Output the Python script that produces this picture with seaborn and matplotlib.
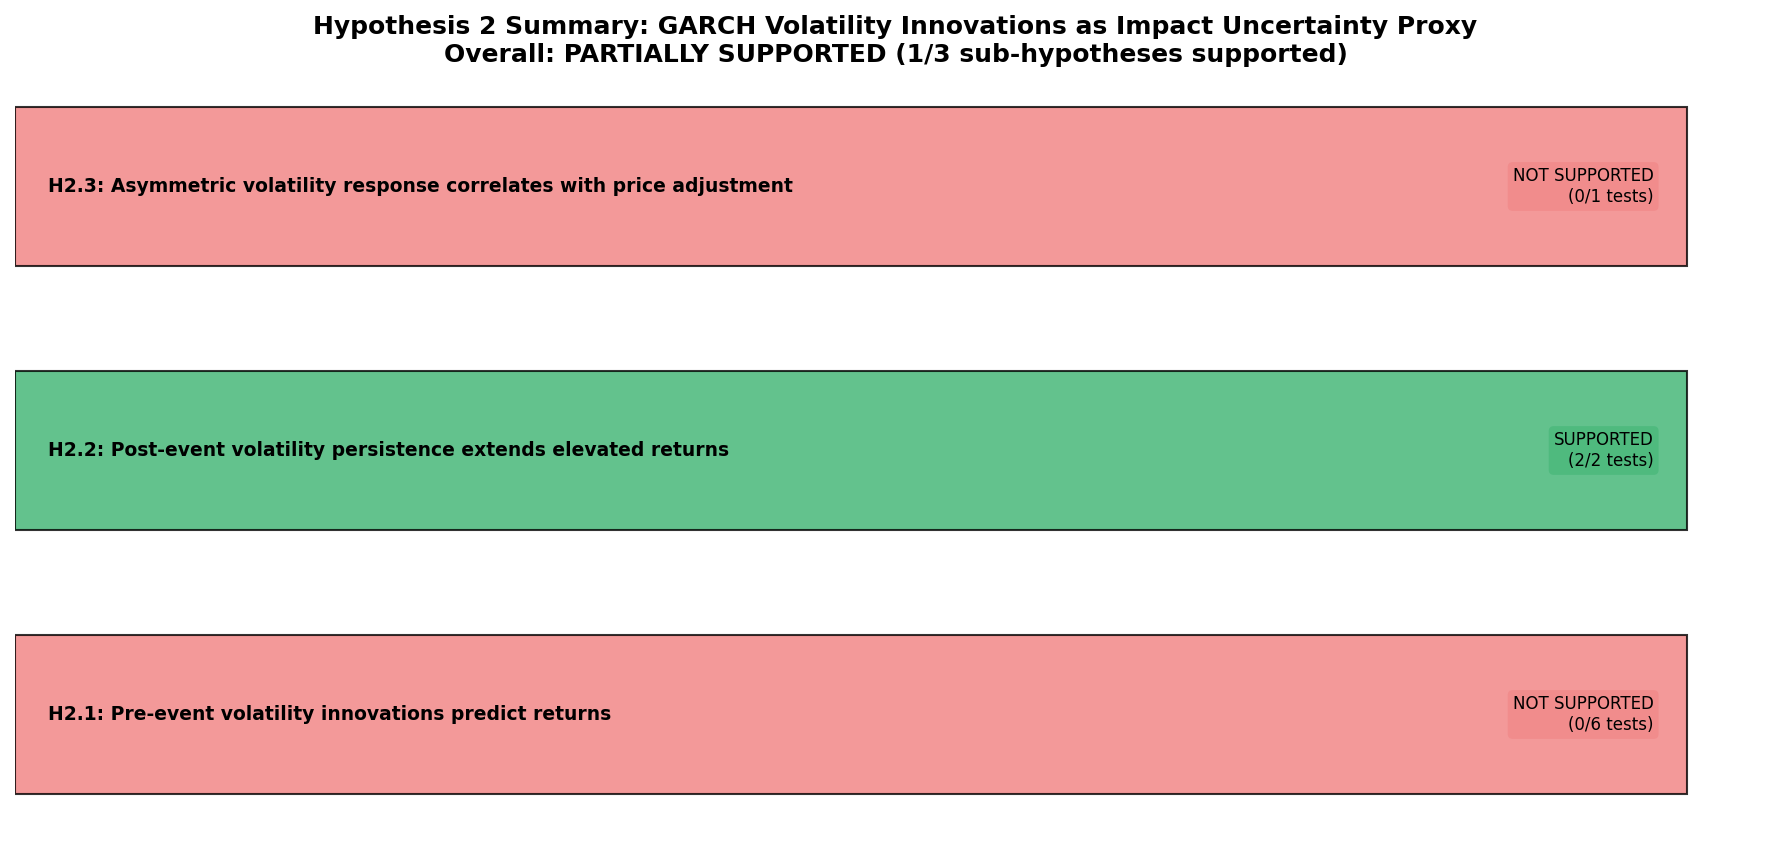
import matplotlib
matplotlib.use("Agg")
import matplotlib.pyplot as plt
import seaborn as sns
import pandas as pd

sns.set_theme(style="white")
plt.rcParams["font.family"] = ["DejaVu Sans"]
plt.rcParams["text.color"] = "black"

# ── data (bottom → top, as in the original barh order) ─────────────────────
hyp_ids = ["H2.1", "H2.2", "H2.3"]
hyp_text = [
    "Pre-event volatility innovations predict returns",
    "Post-event volatility persistence extends elevated returns",
    "Asymmetric volatility response correlates with price adjustment",
]
status = ["NOT SUPPORTED", "SUPPORTED", "NOT SUPPORTED"]
tests_passed = [0, 2, 0]
tests_total = [6, 2, 1]
bar_len = [1, 1, 1]

color_map = {"SUPPORTED": "mediumseagreen", "NOT SUPPORTED": "lightcoral"}

df = pd.DataFrame({"id": hyp_ids, "text": hyp_text, "status": status,
                   "passed": tests_passed, "total": tests_total, "len": bar_len})
order = hyp_ids[::-1]   # top row = H2.3

fig = plt.figure(figsize=(17.85, 8.43), dpi=100)
W, H = 1785, 843
ax = fig.add_axes([15 / W, -3.5 / H, 1764 / W, 792 / H])

sns.barplot(data=df, x="len", y="id", hue="id", order=order, hue_order=order,
            palette={r.id: color_map[r.status] for r in df.itertuples()},
            orient="h", width=0.6, alpha=0.8, saturation=1,
            edgecolor="black", linewidth=1.5, legend=False, ax=ax)

for r in df.itertuples():
    yp = order.index(r.id)
    ax.text(0.02, yp, f"{r.id}: {r.text}", va="center", ha="left",
            fontsize=13.5, fontweight="bold", color="black")
    ax.text(0.98, yp, f"{r.status}\n({r.passed}/{r.total} tests)",
            va="center", ha="right", fontsize=12, color="black",
            bbox=dict(boxstyle="round,pad=0.3", facecolor=color_map[r.status],
                      edgecolor="none", alpha=0.5))

ax.set_xlim(0, 1.055)
ax.set_ylim(2.5, -0.5)
ax.axis("off")

fig.suptitle("Hypothesis 2 Summary: GARCH Volatility Innovations as Impact Uncertainty Proxy\n"
             "Overall: PARTIALLY SUPPORTED (1/3 sub-hypotheses supported)",
             x=895.5 / W, y=1 - 15 / H, va="top", fontsize=18, fontweight="bold",
             color="black")

fig.savefig("out.png", dpi=100)
